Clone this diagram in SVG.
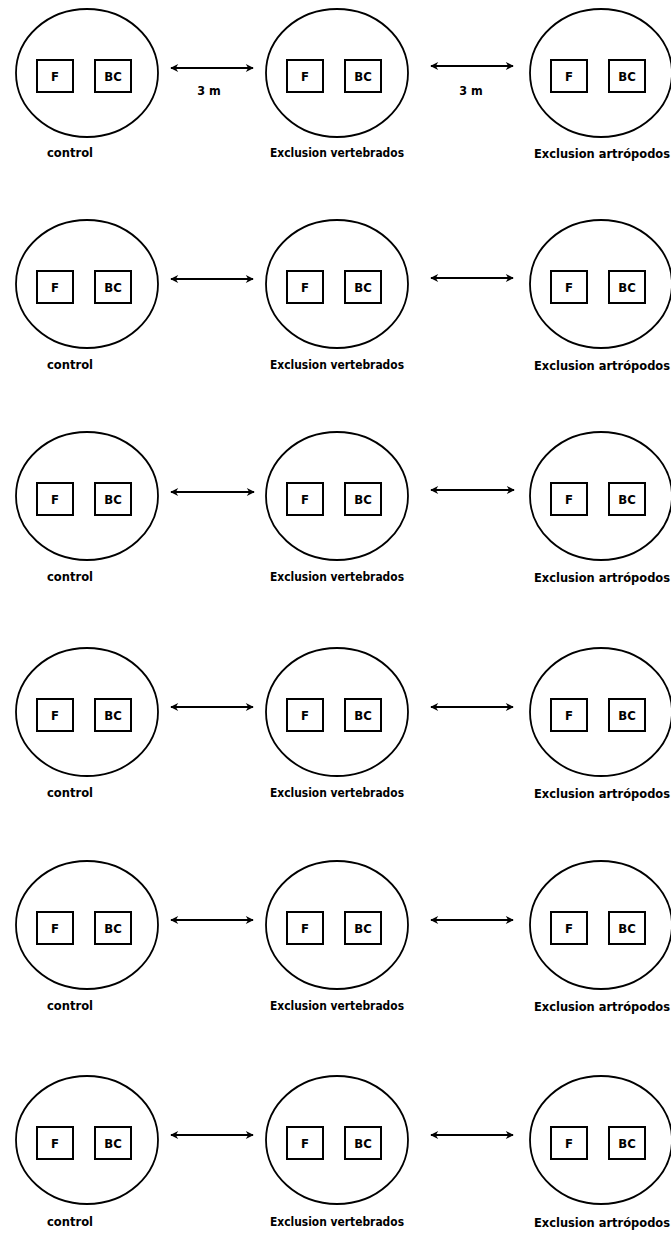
<svg xmlns="http://www.w3.org/2000/svg" width="671" height="1235" viewBox="0 0 671 1235">
<style>
.plot{fill:none;stroke:#000;stroke-width:1.8}
.box{fill:#fff;stroke:#000;stroke-width:2}
.bt{font-family:"DejaVu Sans Condensed","DejaVu Sans","Liberation Sans",sans-serif;font-weight:bold;font-size:13px;fill:#000;text-anchor:middle}
.lb{font-family:"DejaVu Sans Condensed","DejaVu Sans","Liberation Sans",sans-serif;font-weight:bold;font-size:12.5px;fill:#000;text-anchor:middle}
.conn{stroke:#000;stroke-width:2;fill:none;marker-start:url(#ah);marker-end:url(#ah)}
</style>
<defs>
<marker id="ah" viewBox="0 0 10 10" refX="9" refY="5" markerWidth="9" markerHeight="8" markerUnits="userSpaceOnUse" orient="auto-start-reverse">
<path d="M0,0 L10,5 L0,10 L3,5 Z" fill="#000"/>
</marker>
<g id="plot">
<ellipse class="plot" cx="0" cy="13" rx="71" ry="64"/>
<rect class="box" x="-50" y="0" width="36" height="32"/>
<rect class="box" x="8" y="0" width="36" height="32"/>
<text class="bt" x="-32" y="21">F</text>
<text class="bt" x="26" y="21">BC</text>
</g>
</defs>
<g id="nodes">
<g id="r1"><use href="#plot" x="87" y="60"/><use href="#plot" x="337" y="60"/><use href="#plot" x="601" y="60"/>
<text class="lb" x="70" y="157" textLength="46" lengthAdjust="spacingAndGlyphs">control</text>
<text class="lb" x="337" y="157" textLength="134" lengthAdjust="spacingAndGlyphs">Exclusion vertebrados</text>
<text class="lb" x="602" y="158" textLength="136" lengthAdjust="spacingAndGlyphs">Exclusion artrópodos</text>
<text class="lb" x="209" y="95">3 m</text>
<text class="lb" x="471" y="95">3 m</text>
</g>
<g id="r2"><use href="#plot" x="87" y="271"/><use href="#plot" x="337" y="271"/><use href="#plot" x="601" y="271"/>
<text class="lb" x="70" y="369" textLength="46" lengthAdjust="spacingAndGlyphs">control</text>
<text class="lb" x="337" y="369" textLength="134" lengthAdjust="spacingAndGlyphs">Exclusion vertebrados</text>
<text class="lb" x="602" y="370" textLength="136" lengthAdjust="spacingAndGlyphs">Exclusion artrópodos</text>
</g>
<g id="r3"><use href="#plot" x="87" y="483"/><use href="#plot" x="337" y="483"/><use href="#plot" x="601" y="483"/>
<text class="lb" x="70" y="581" textLength="46" lengthAdjust="spacingAndGlyphs">control</text>
<text class="lb" x="337" y="581" textLength="134" lengthAdjust="spacingAndGlyphs">Exclusion vertebrados</text>
<text class="lb" x="602" y="582" textLength="136" lengthAdjust="spacingAndGlyphs">Exclusion artrópodos</text>
</g>
<g id="r4"><use href="#plot" x="87" y="699"/><use href="#plot" x="337" y="699"/><use href="#plot" x="601" y="699"/>
<text class="lb" x="70" y="797" textLength="46" lengthAdjust="spacingAndGlyphs">control</text>
<text class="lb" x="337" y="797" textLength="134" lengthAdjust="spacingAndGlyphs">Exclusion vertebrados</text>
<text class="lb" x="602" y="798" textLength="136" lengthAdjust="spacingAndGlyphs">Exclusion artrópodos</text>
</g>
<g id="r5"><use href="#plot" x="87" y="912"/><use href="#plot" x="337" y="912"/><use href="#plot" x="601" y="912"/>
<text class="lb" x="70" y="1010" textLength="46" lengthAdjust="spacingAndGlyphs">control</text>
<text class="lb" x="337" y="1010" textLength="134" lengthAdjust="spacingAndGlyphs">Exclusion vertebrados</text>
<text class="lb" x="602" y="1011" textLength="136" lengthAdjust="spacingAndGlyphs">Exclusion artrópodos</text>
</g>
<g id="r6"><use href="#plot" x="87" y="1127"/><use href="#plot" x="337" y="1127"/><use href="#plot" x="601" y="1127"/>
<text class="lb" x="70" y="1226" textLength="46" lengthAdjust="spacingAndGlyphs">control</text>
<text class="lb" x="337" y="1226" textLength="134" lengthAdjust="spacingAndGlyphs">Exclusion vertebrados</text>
<text class="lb" x="602" y="1227" textLength="136" lengthAdjust="spacingAndGlyphs">Exclusion artrópodos</text>
</g>
</g>
<g id="connectors">
<line class="conn" x1="171" y1="68" x2="253" y2="68"/>
<line class="conn" x1="431" y1="66" x2="513" y2="66"/>
<line class="conn" x1="171" y1="279" x2="253" y2="279"/>
<line class="conn" x1="431" y1="278" x2="513" y2="278"/>
<line class="conn" x1="171" y1="492" x2="254" y2="492"/>
<line class="conn" x1="431" y1="490" x2="514" y2="490"/>
<line class="conn" x1="171" y1="707" x2="253" y2="707"/>
<line class="conn" x1="431" y1="707" x2="513" y2="707"/>
<line class="conn" x1="171" y1="920" x2="253" y2="920"/>
<line class="conn" x1="431" y1="920" x2="513" y2="920"/>
<line class="conn" x1="171" y1="1135" x2="253" y2="1135"/>
<line class="conn" x1="431" y1="1135" x2="513" y2="1135"/>
</g>
</svg>
